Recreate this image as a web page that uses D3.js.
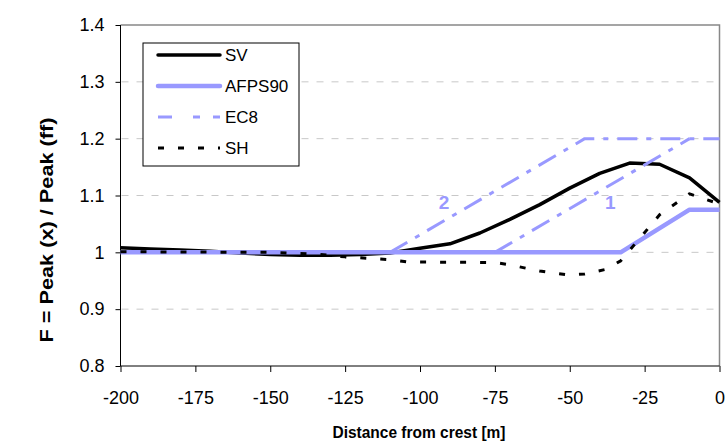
<!DOCTYPE html>
<html>
<head>
<meta charset="utf-8">
<script src="https://cdn.jsdelivr.net/npm/d3@7"></script>
<style>
  body { margin: 0; background: #fff; }
  svg { font-family: "Liberation Sans", Arial, sans-serif; }
  .axis text { font-size: 18px; fill: #000; }
  .axis path, .axis line { stroke: #000; }
</style>
</head>
<body>
<svg id="chart" width="726" height="447"></svg>
<script>
// data
const svDist = [-200, -190, -180, -170, -160, -150, -140, -130, -120, -110, -100, -90, -80, -70, -60, -50, -40, -30, -20, -10, 0]
const svValues = [1.008, 1.006, 1.004, 1.002, 0.999, 0.996, 0.995, 0.995, 0.996, 0.999, 1.007, 1.015, 1.034, 1.058, 1.084, 1.113, 1.139, 1.157, 1.155, 1.131, 1.088]

const afpsDist = [-200, -33, -10, 0]
const afpsValues = [1, 1, 1.075, 1.075]

const ec8Line2Dist = [-110, -45, 0]
const ec8Line2Values = [1, 1.2, 1.2]
const ec8Line1Dist = [-75, -10]
const ec8Line1Values = [1, 1.2]

const shDist = [-200, -150, -135, -125, -110, -104, -75, -70, -60, -50, -45, -38, -33, -20, -10, 0]
const shValues = [1.001, 1.0, 0.997, 0.992, 0.987, 0.983, 0.982, 0.978, 0.967, 0.960, 0.962, 0.970, 0.985, 1.066, 1.103, 1.085]

const xTicks = [-200, -175, -150, -125, -100, -75, -50, -25, 0]
const yTicks = [0.8, 0.9, 1, 1.1, 1.2, 1.3, 1.4]

const legendNames = ['SV', 'AFPS90', 'EC8', 'SH']

const blue = '#9999ff'
const plot = { left: 120.5, right: 719.5, top: 25, bottom: 366 }

const svg = d3.select('#chart')

const x = d3.scaleLinear().domain([-200, 0]).range([plot.left, plot.right])
const y = d3.scaleLinear().domain([0.8, 1.4]).range([plot.bottom, plot.top])

// gridlines
svg.append('g')
  .selectAll('line')
  .data(yTicks.slice(1, -1))
  .enter()
  .append('line')
  .attr('x1', plot.left + 1)
  .attr('x2', plot.right)
  .attr('y1', d => y(d))
  .attr('y2', d => y(d))
  .attr('stroke', '#c8c8c8')
  .attr('stroke-width', 1)
  .attr('stroke-dasharray', '7,8')

// plot frame top/right
svg.append('path')
  .attr('d', `M${plot.left},${y(1.4)}H${plot.right}V${plot.bottom}`)
  .attr('fill', 'none')
  .attr('stroke', '#888')
  .attr('stroke-width', 1.5)

// axes
svg.append('g')
  .attr('class', 'axis')
  .attr('transform', `translate(0,${plot.bottom})`)
  .call(d3.axisBottom(x).tickValues(xTicks).tickSize(6).tickPadding(19).tickFormat(d => String(d)))
  .call(g => g.select('.domain').attr('d', `M${plot.left},0H${plot.right}`))

svg.append('g')
  .attr('class', 'axis')
  .attr('transform', `translate(${plot.left},0)`)
  .call(d3.axisLeft(y).tickValues(yTicks).tickSize(5).tickPadding(11).tickFormat(d => d === 1 ? '1' : d3.format('.1f')(d)))
  .call(g => g.select('.domain').attr('d', `M0,${plot.top}V${plot.bottom}`))

// axis titles
svg.append('text')
  .attr('x', 419)
  .attr('y', 438)
  .attr('text-anchor', 'middle')
  .attr('font-size', 17)
  .attr('font-weight', 'bold')
  .attr('textLength', 173)
  .attr('lengthAdjust', 'spacingAndGlyphs')
  .text('Distance from crest [m]')

svg.append('text')
  .attr('transform', 'translate(53,230) rotate(-90)')
  .attr('text-anchor', 'middle')
  .attr('font-size', 18)
  .attr('font-weight', 'bold')
  .attr('textLength', 225)
  .attr('lengthAdjust', 'spacingAndGlyphs')
  .text('F = Peak (x) / Peak (ff)')

const line = d3.line().x(d => x(d[0])).y(d => y(d[1]))

const series = [
  { name: 'SV', pts: d3.zip(svDist, svValues), color: '#000', width: 3.5, dash: null },
  { name: 'AFPS90', pts: d3.zip(afpsDist, afpsValues), color: blue, width: 4.5, dash: null },
  { name: 'EC8', pts: d3.zip(ec8Line2Dist, ec8Line2Values), color: blue, width: 3, dash: '20,9,5,9' },
  { name: 'EC8', pts: d3.zip(ec8Line1Dist, ec8Line1Values), color: blue, width: 3, dash: '20,9,5,9' },
  { name: 'SH', pts: d3.zip(shDist, shValues), color: '#000', width: 3, dash: '6,14' }
]

svg.append('g')
  .selectAll('path')
  .data(series)
  .enter()
  .append('path')
  .attr('d', d => line(d.pts))
  .attr('fill', 'none')
  .attr('stroke', d => d.color)
  .attr('stroke-width', d => d.width)
  .attr('stroke-dasharray', d => d.dash)
  .attr('stroke-linejoin', 'round')

// EC8 curve labels
svg.append('text').attr('x', x(-92)).attr('y', y(1.1) + 13)
  .attr('text-anchor', 'middle').attr('font-size', 19).attr('font-weight', 'bold').attr('fill', blue).text('2')
svg.append('text').attr('x', x(-36.5)).attr('y', y(1.1) + 13)
  .attr('text-anchor', 'middle').attr('font-size', 19).attr('font-weight', 'bold').attr('fill', blue).text('1')

// legend
const legend = svg.append('g').attr('transform', 'translate(143,43)')
legend.append('rect')
  .attr('width', 156)
  .attr('height', 123)
  .attr('fill', '#fff')
  .attr('stroke', '#000')
  .attr('stroke-width', 1)

const legendSeries = legendNames.map(n => series.find(s => s.name === n))
const item = legend.selectAll('g.item')
  .data(legendSeries)
  .enter()
  .append('g')
  .attr('class', 'item')
  .attr('transform', (d, i) => `translate(0,${12 + i * 31})`)

item.append('line')
  .attr('x1', 15).attr('x2', 77)
  .attr('stroke', d => d.color)
  .attr('stroke-width', d => d.width)
  .attr('stroke-dasharray', d => d.name === 'EC8' ? '14,21,7,13' : d.dash)
  .attr('stroke-linecap', d => d.dash ? 'butt' : 'round')

item.append('text')
  .attr('x', 82)
  .attr('y', 6)
  .attr('font-size', 17)
  .text(d => d.name)
</script>
</body>
</html>
